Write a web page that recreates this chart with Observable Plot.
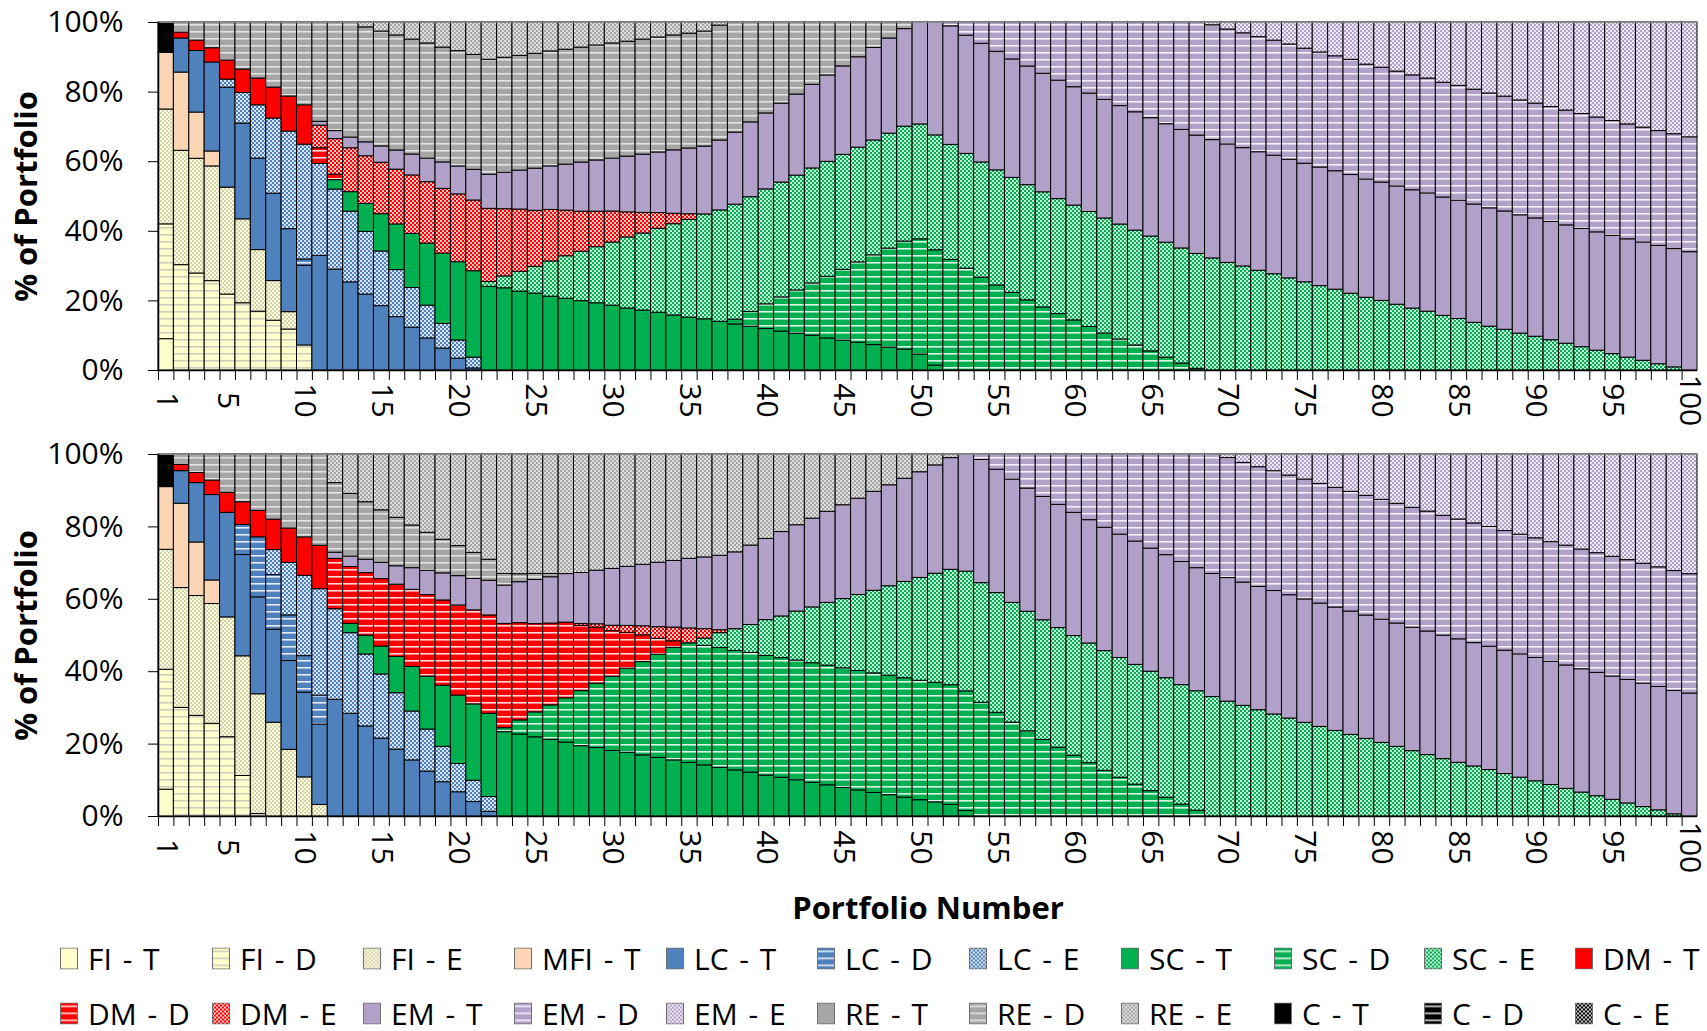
<!DOCTYPE html>
<html>
<head>
<meta charset="utf-8">
<script src="https://cdn.jsdelivr.net/npm/d3@7"></script>
<script src="https://cdn.jsdelivr.net/npm/@observablehq/plot@0.6"></script>
<style>
  body { margin: 0; background: #fff; width: 1707px; height: 1031px; overflow: hidden; font-family: "Open Sans", sans-serif; }
  #top, #bottom { height: auto; line-height: 0; }
  #legend { position: relative; width: 1707px; height: 101px; }
  .item { position: absolute; display: flex; align-items: center; font-size: 30px; word-spacing: 3px; color: #000; line-height: 1.3; white-space: nowrap; transform: translateY(-50%); }
  .item svg { margin-right: 10px; flex: none; }
</style>
</head>
<body>
<svg id="defs" width="0" height="0" style="position:absolute;left:0;top:0"><defs></defs></svg>
<div id="top"></div>
<div id="bottom"></div>
<div id="legend"></div>
<script>
// ---------- categories & ticks ----------
const names = ["FI - T","FI - D","FI - E","MFI - T","LC - T","LC - D","LC - E","SC - T","SC - D","SC - E","DM - T","DM - D","DM - E","EM - T","EM - D","EM - E","RE - T","RE - D","RE - E","C - T","C - D","C - E"];
const portfolios = d3.range(1, 101);
const xLabels = [1, 5, 10, 15, 20, 25, 30, 35, 40, 45, 50, 55, 60, 65, 70, 75, 80, 85, 90, 95, 100];
const yTicks = [0, 0.2, 0.4, 0.6, 0.8, 1];

// values start at a given portfolio number; the rest of the 100 portfolios hold 0
function at(start, vals) { const a = new Array(100).fill(0); vals.forEach((v, i) => { a[start - 1 + i] = v; }); return a; }

// ---------- top chart (% of portfolio) ----------
const A_FI_T = at(1, [9.0]);
const A_FI_D = at(1, [33.0, 30.3, 27.9, 25.7, 21.8, 19.3, 16.9, 14.3, 11.8, 7.2]);
const A_FI_E = at(1, [33.0, 32.9, 33.0, 33.0, 30.7, 24.1, 17.7, 11.4, 5.0]);
const A_MFI_T = at(1, [16.3, 22.5, 13.3, 4.3]);
const A_LC_T = at(2, [9.8, 17.7, 25.6, 28.7, 27.5, 26.3, 25.1, 23.9, 22.9,
  32.9, 29.0, 25.3, 21.8, 18.5, 15.3, 12.3, 9.2, 6.3, 3.4, 0.6]);
const A_LC_D = at(10, [1.8]);
const A_LC_E = at(5, [2.3, 8.8, 15.3, 21.6, 28.1, 33.0, 26.4, 23.0, 20.3, 18.0, 15.7, 13.5, 11.4, 9.4, 7.1, 5.2, 3.1]);
const A_SC_T = at(12, [2.7, 5.6, 8.0, 10.7, 13.1, 15.5, 17.8, 20.2, 22.4, 24.8,
  24.0, 23.6, 22.7, 22.1, 21.2, 20.6, 19.9, 19.3, 18.6, 17.8,
  17.2, 16.6, 15.8, 15.2, 14.7, 14.0, 13.2, 12.6, 11.9, 11.2,
  10.6, 10.0, 9.2, 8.6, 8.0, 7.3, 6.6, 6.0, 4.6, 1.4]);
const A_SC_D = at(38, [1.4, 4.2, 7.1, 9.8, 12.4, 15.0, 17.7, 20.3, 23.1, 25.8,
  28.4, 31.0, 33.1, 33.1, 31.7, 29.3, 26.6, 24.4, 22.3, 20.1,
  18.1, 16.2, 14.4, 12.5, 10.6, 8.9, 7.2, 5.5, 3.7, 2.0, 0.5]);
const A_SC_E = at(22, [1.4, 3.4, 5.7, 7.7, 10.1, 12.2, 14.2, 16.1, 18.1, 20.4,
  22.1, 24.1, 26.2, 28.1, 30.1, 32.0,
  33, 33, 33, 33, 33, 33, 33, 33, 33, 33,
  33, 33, 33, 33, 33, 33, 33, 33, 33, 33,
  33, 33, 33, 33, 33, 33, 33, 33, 33, 33,
  33,
  32.2, 30.9, 29.9, 28.6, 27.6, 26.4, 25.3, 24.2, 23.2, 22.0,
  20.9, 20.0, 18.9, 17.8, 16.9, 15.7, 14.8, 13.7, 12.6, 11.7,
  10.6, 9.7, 8.7, 7.7, 6.7, 5.7, 4.7, 3.7, 2.8, 1.8,
  0.9]);
const A_DM_T = at(2, [1.7, 3.0, 4.1, 5.5, 6.7, 7.7, 8.9, 10.1, 11.3]);
const A_DM_D = at(11, [4.5, 1.6]);
const A_DM_E = at(11, [6.5, 10.2, 12.6, 13.7, 14.8, 15.7, 16.8, 17.6, 18.6, 19.4,
  20.3, 21.0, 19.3, 17.9, 16.1, 14.8, 13.1, 11.5, 10.2, 8.9,
  7.2, 5.9, 4.5, 3.0, 1.6]);
const A_EM_T = at(11, [1.1, 2.3, 3.1, 4.0, 4.7, 5.5, 6.0, 6.8, 7.6, 8.0,
  8.8, 9.8, 10.5, 11.2, 12.1, 12.5, 13.2, 14.1, 14.7, 15.2,
  16.0, 16.7, 17.4, 18.2, 18.9, 19.5, 20.1, 20.7, 21.5, 21.8,
  22.7, 23.3, 24.0, 24.8, 25.4, 26.0, 26.6, 27.3, 28.0, 29.3,
  32.4, 34, 34, 34, 34, 34, 34, 34, 34, 34,
  34, 34, 34, 34, 34, 34, 34, 34, 34, 34,
  34, 34, 34, 34, 34, 34, 34, 34, 34, 34,
  34, 34, 34, 34, 34, 34, 34, 34, 34, 34,
  34, 34, 34, 34, 34, 34, 34, 34, 34, 34]);
const A_EM_D = at(52, [1.1, 3.8, 6.1, 8.4, 10.6, 12.6, 14.7, 16.7, 18.6,
  20.4, 22.2, 24.0, 25.8, 27.5, 29.2, 30.8, 32.5, 33, 33,
  33, 33, 33, 33, 33, 33, 33, 33, 33, 33,
  33, 33, 33, 33, 33, 33, 33, 33, 33, 33,
  33, 33, 33, 33, 33, 33, 33, 33, 33, 33]);
const A_EM_E = at(69, [0.8, 2.0, 3.1, 4.2, 5.2, 6.3, 7.5, 8.6, 9.7, 10.7,
  12.1, 13.0, 14.1, 15.2, 16.1, 17.3, 18.2, 19.3, 20.4, 21.3,
  22.4, 23.3, 24.3, 25.3, 26.3, 27.3, 28.3, 29.3, 30.2, 31.2,
  32.1, 33.0]);
const A_RE_T = at(1, []);
const A_RE_D = at(2, [2.9, 5.2, 7.4, 10.9, 13.5, 16.1, 18.7, 21.3, 23.8,
  28.5, 31.2, 33, 33, 33, 33, 33, 33, 33, 33,
  33, 33, 33, 33, 33, 33, 33, 33, 33, 33,
  33, 33, 33, 33, 33, 33, 33, 31.6, 28.7, 26.1,
  23.3, 20.7, 17.9, 15.2, 12.6, 10.0, 7.3, 4.6, 1.9]);
const A_RE_E = at(14, [1.4, 2.6, 3.7, 4.9, 6.0, 7.2, 8.2, 9.3, 10.7, 10.1,
  9.6, 9.0, 8.3, 7.8, 7.2, 6.6, 6.0, 5.5, 4.9, 4.3,
  3.7, 3.2, 2.6, 0.9]);
const A_C_T = at(1, [8.7]);
const A_C_D = at(1, []);
const A_C_E = at(1, []);

// ---------- bottom chart (% of portfolio) ----------
const B_FI_T = at(1, [7.4]);
const B_FI_D = at(1, [33.1, 30.0, 27.8, 25.6, 21.9, 11.2, 0.7]);
const B_FI_E = at(1, [33.1, 33.1, 33.1, 33.1, 33.1, 33.1, 33.1, 25.9, 18.4, 10.8, 3.2]);
const B_MFI_T = at(1, [17.3, 23.3, 14.8, 6.5]);
const B_LC_T = at(2, [9.0, 16.4, 23.6, 28.9, 28.0, 26.8, 25.7, 24.5, 23.4,
  22.2, 32.2, 28.4, 24.9, 21.5, 18.5, 15.5, 12.4, 9.5, 6.7,
  4.0, 1.3]);
const B_LC_D = at(6, [8.3, 16.6, 15.1, 12.6, 10.1, 8.0]);
const B_LC_E = at(8, [6.9, 14.5, 22.2, 29.4, 25.0, 22.3, 19.9, 17.7, 15.6, 13.5, 11.6, 9.8, 7.8, 5.9, 4.1]);
const B_SC_T = at(13, [2.6, 5.2, 7.7, 10.0, 12.3, 14.6, 16.9, 18.9,
  21.1, 23.0, 23.3, 22.6, 21.9, 21.2, 20.4, 19.4, 18.9, 18.1,
  17.6, 16.9, 16.2, 15.5, 14.8, 14.1, 13.4, 12.7, 12.1, 11.3,
  10.7, 10.0, 9.3, 8.6, 7.9, 7.2, 6.5, 5.9, 5.2, 4.5,
  3.9, 3.2, 1.5]);
const B_SC_D = at(23, [1.1, 3.9, 6.9, 9.5, 12.2, 15.2, 17.8, 20.5,
  23.2, 25.8, 28.5, 31.1, 33, 33, 33, 33, 33, 33,
  33, 33, 33, 33, 33, 33, 33, 33, 33, 33,
  33, 33, 33, 31.4, 28.6, 25.9, 23.5, 21.1, 19.0, 16.8,
  14.7, 12.6, 10.7, 8.8, 7.0, 5.2, 3.3, 1.6]);
const B_SC_E = at(36, [2.0, 4.1, 6.0, 7.7, 9.9,
  11.5, 13.5, 15.4, 17.3, 19.1, 21.0, 22.8, 24.7, 26.6, 28.4,
  30.1, 31.8, 33, 33, 33, 33, 33, 33, 33, 33,
  33, 33, 33, 33, 33, 33, 33, 33, 33, 31.6,
  30.5, 29.3, 28.1, 27.0, 25.8, 24.7, 23.6, 22.5, 21.4, 20.3,
  19.2, 18.0, 16.9, 15.8, 14.8, 13.8, 12.8, 11.7, 10.7, 9.7,
  8.7, 7.6, 6.6, 5.6, 4.6, 3.6, 2.6, 1.7, 0.6]);
const B_DM_T = at(2, [1.7, 2.8, 4.0, 5.5, 6.3, 7.3, 8.4, 9.5, 10.6, 12.0]);
const B_DM_D = at(12, [13.9, 15.7, 17.3, 18.6, 20.0, 21.3, 22.5, 23.6, 24.9,
  26.0, 27.2, 28.8, 26.8, 24.4, 22.6, 20.9, 18.0, 15.5, 12.6,
  9.9, 7.4, 4.4, 1.8]);
const B_DM_E = at(28, [0.5, 0.9, 1.5, 1.9, 2.5, 3.2, 3.8, 4.1, 2.6, 0.8]);
const B_EM_T = at(12, [1.7, 2.9, 3.7, 4.5, 5.1, 6.0, 6.7, 7.5, 8.1,
  8.7, 9.6, 10.6, 11.3, 12.2, 12.8, 13.4, 14.1, 14.8, 15.7,
  16.3, 17.0, 17.8, 18.4, 19.2, 19.8, 20.5, 21.2, 21.9, 22.4,
  23.3, 23.8, 24.5, 25.1, 25.9, 26.6, 27.3, 27.9, 28.5, 29.2,
  29.9, 30.8, 32.3, 34, 34, 34, 34, 34, 34, 34,
  34, 34, 34, 34, 34, 34, 34, 34, 34, 34,
  34, 34, 34, 34, 34, 34, 34, 34, 34, 34,
  34, 34, 34, 34, 34, 34, 34, 34, 34, 34,
  34, 34, 34, 34, 34, 34, 34, 34, 34, 34]);
const B_EM_D = at(54, [1.5, 4.2, 6.9, 9.4, 11.7, 13.9, 16.1,
  18.1, 20.2, 22.1, 24.0, 26.0, 27.8, 29.7, 31.4, 33, 33,
  33, 33, 33, 33, 33, 33, 33, 33, 33, 33,
  33, 33, 33, 33, 33, 33, 33, 33, 33, 33,
  33, 33, 33, 33, 33, 33, 33, 33, 33, 33]);
const B_EM_E = at(70, [1.0, 2.3, 3.5, 4.6, 5.8, 6.9, 8.1, 9.2, 10.3, 11.4,
  12.5, 13.6, 14.7, 15.7, 16.9, 17.9, 19.0, 20.0, 21.1, 22.1,
  23.1, 24.2, 25.1, 26.2, 27.2, 28.2, 29.1, 30.1, 31.1, 32.1,
  33.1]);
const B_RE_T = at(1, []);
const B_RE_D = at(2, [2.9, 5.1, 7.2, 10.6, 13.2, 15.6, 18.0, 20.4, 22.9,
  25.2, 19.2, 17.3, 15.9, 14.5, 13.4, 11.8, 10.5, 9.3, 8.3,
  7.2, 5.8, 3.2, 2.2, 1.7, 0.9]);
const B_RE_E = at(12, [7.9, 10.9, 13.2, 15.4, 17.5, 19.6, 21.6, 23.6, 25.3,
  27.2, 29.1, 33, 33, 33, 33, 33, 32.7, 32.1, 31.6,
  31.0, 30.5, 29.9, 29.4, 28.8, 28.4, 27.9, 27.0, 25.1, 23.3,
  21.4, 19.5, 17.7, 15.8, 14.0, 12.2, 10.3, 8.5, 6.7, 4.9,
  3.0, 1.0]);
const B_C_T = at(1, [9.0]);
const B_C_D = at(1, []);
const B_C_E = at(1, []);

const topValues = [A_FI_T, A_FI_D, A_FI_E, A_MFI_T, A_LC_T, A_LC_D, A_LC_E, A_SC_T, A_SC_D, A_SC_E, A_DM_T, A_DM_D, A_DM_E, A_EM_T, A_EM_D, A_EM_E, A_RE_T, A_RE_D, A_RE_E, A_C_T, A_C_D, A_C_E];
const bottomValues = [B_FI_T, B_FI_D, B_FI_E, B_MFI_T, B_LC_T, B_LC_D, B_LC_E, B_SC_T, B_SC_D, B_SC_E, B_DM_T, B_DM_D, B_DM_E, B_EM_T, B_EM_D, B_EM_E, B_RE_T, B_RE_D, B_RE_E, B_C_T, B_C_D, B_C_E];

// ---------- styles ----------
const baseColors = {FI: "#FFFFCC", MFI: "#FCD5B4", LC: "#4F81BD", SC: "#00B050", DM: "#FF0000", EM: "#B1A0C7", RE: "#A6A6A6", C: "#000000"};
const secColors = {FI: "#C4C4BA", MFI: "#FFFFFF", LC: "#FFFFFF", SC: "#FFFFFF", DM: "#FFFFFF", EM: "#FFFFFF", RE: "#EEEEEE", C: "#FFFFFF"};
const pid = n => "pat-" + n.replace(/\s*-\s*/g, "-");

const defs = d3.select("#defs defs");
names.forEach(n => {
  const [asset, acct] = n.split(" - ");
  const base = baseColors[asset], sec = secColors[asset];
  if (acct === "T") {
    const p = defs.append("pattern").attr("id", pid(n)).attr("patternUnits", "userSpaceOnUse").attr("width", 4).attr("height", 4);
    p.append("rect").attr("width", 4).attr("height", 4).attr("fill", base);
  } else if (acct === "D") {
    const p = defs.append("pattern").attr("id", pid(n)).attr("patternUnits", "userSpaceOnUse").attr("width", 8).attr("height", 7);
    p.append("rect").attr("width", 8).attr("height", 7).attr("fill", base);
    p.append("rect").attr("y", 3).attr("width", 8).attr("height", 1.6).attr("fill", sec).attr("fill-opacity", 0.85);
  } else {
    const p = defs.append("pattern").attr("id", pid(n)).attr("patternUnits", "userSpaceOnUse").attr("width", 4).attr("height", 4);
    p.append("rect").attr("width", 4).attr("height", 4).attr("fill", base);
    p.append("rect").attr("width", 2).attr("height", 2).attr("fill", sec).attr("fill-opacity", 0.78);
    p.append("rect").attr("x", 2).attr("y", 2).attr("width", 2).attr("height", 2).attr("fill", sec).attr("fill-opacity", 0.78);
  }
});

const W = 1707, ML = 158, MR = 10;
const bw = (W - ML - MR) / 100;

function chart(values, opt) {
  const data = [];
  portfolios.forEach((p, i) => {
    names.forEach((s, k) => { const v = values[k][i]; if (v > 0) data.push({p, s, v}); });
  });
  const marks = [
    Plot.barY(data, Plot.stackY({x: "p", y: "v", fill: "s", stroke: "#000", strokeWidth: 1, offset: "normalize", order: null})),
    Plot.ruleY([1], {stroke: "#8a8a8a", strokeWidth: 1.2}),
    Plot.ruleY([0], {stroke: "#000", strokeWidth: 1.5}),
    Plot.ruleX([1], {dx: -bw / 2, stroke: "#000", strokeWidth: 1.5}),
    Plot.axisY({ticks: yTicks, tickFormat: d3.format(".0%"), tickSize: 10, tickPadding: 25, fontSize: 30, label: null}),
    Plot.axisX({ticks: portfolios, tickSize: 10, tickFormat: () => "", dx: -bw / 2, label: null}),
    Plot.text(xLabels, {x: d => d, y: 0, text: d => String(d), rotate: 90, dy: opt.labelDy, textAnchor: "middle", fontSize: 30}),
    Plot.text(["% of Portfolio"], {frameAnchor: "left", dx: -131, rotate: -90, textAnchor: "middle", fontWeight: "bold", fontSize: 31})
  ];
  if (opt.xTitle) marks.push(Plot.text([opt.xTitle], {frameAnchor: "bottom", dy: 102, fontWeight: "bold", fontSize: 31}));
  return Plot.plot({
    width: W, height: opt.height,
    marginLeft: ML, marginRight: MR, marginTop: opt.mt, marginBottom: opt.mb,
    style: {fontFamily: "Open Sans", fontSize: "30px", color: "#000", background: "#fff", overflow: "visible"},
    x: {type: "band", domain: portfolios, padding: 0, axis: null},
    y: {domain: [0, 1], axis: null},
    color: {domain: names, range: names.map(n => `url(#${pid(n)})`)},
    marks
  });
}

document.getElementById("top").append(chart(topValues, {height: 440, mt: 22, mb: 70, labelDy: 30}));
document.getElementById("bottom").append(chart(bottomValues, {height: 490, mt: 14, mb: 114, labelDy: 31, xTitle: "Portfolio Number"}));

// ---------- legend ----------
const legendX = [60, 212, 363, 514, 666, 817, 969, 1121, 1274, 1424, 1575];
const legendY = [28, 83];
const legend = document.getElementById("legend");
names.forEach((n, i) => {
  const row = Math.floor(i / 11), col = i % 11;
  const div = document.createElement("div");
  div.className = "item";
  div.style.left = legendX[col] + "px";
  div.style.top = legendY[row] + "px";
  div.innerHTML = `<svg width="18" height="22"><rect x="0.5" y="0.5" width="17" height="21" fill="url(#${pid(n)})" stroke="#6f6f6f" stroke-width="1"/></svg><span>${n}</span>`;
  legend.append(div);
});
</script>
</body>
</html>
